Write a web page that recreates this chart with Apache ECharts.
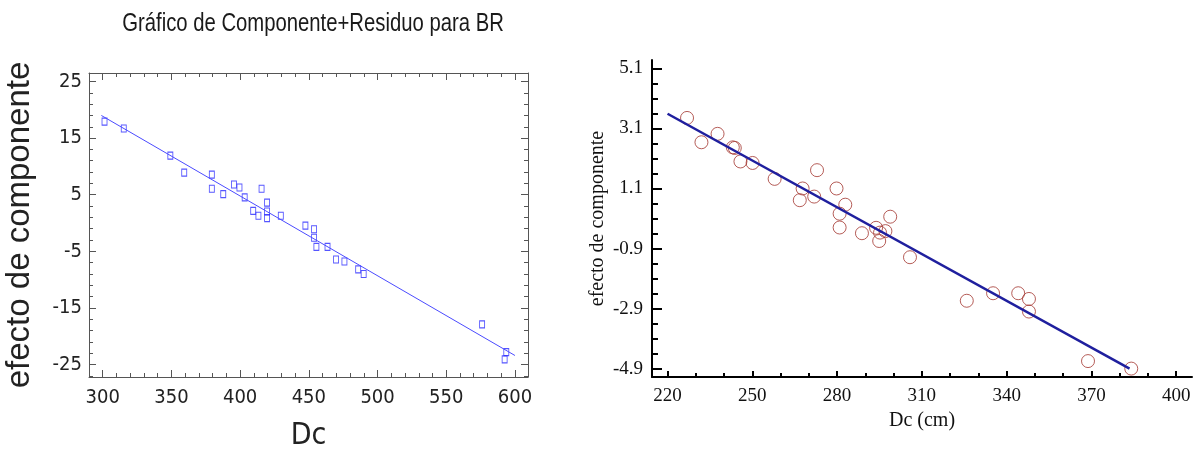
<!DOCTYPE html>
<html lang="es" style="height: 100%">
<head>
    <meta charset="utf-8">
</head>
<body style="height: 100%; margin: 0; overflow: hidden; background: #fff">
<div id="container" style="height: 455px; width: 1202px"></div>

<script type="text/javascript" src="https://cdn.jsdelivr.net/npm/echarts@6/dist/echarts.min.js"></script>

<script type="text/javascript">
    // ---- datos: gráfico izquierdo (Componente+Residuo para BR) ----
    var leftDc = [301.3, 315.3, 349.2, 359.3, 379.4, 379.4, 387.7, 395.5, 399.5, 403.3,
                  415.6, 409.5, 413.3, 419.6, 419.6, 419.6, 429.6, 447.5, 453.8, 453.8,
                  455.5, 463.6, 469.8, 475.9, 485.9, 489.9, 576.1, 593.7, 592.5];
    var leftEfecto = [17.9, 16.7, 11.9, 8.9, 8.55, 6.05, 5.1, 6.8, 6.28, 4.53,
                      6.05, 2.15, 1.28, 3.6, 2.03, 0.87, 1.28, -0.47, -1.1, -2.6,
                      -4.2, -4.2, -6.45, -6.8, -8.2, -9.0, -17.9, -22.8, -24.1];
    var leftFitDc = [299, 600];
    var leftFitEfecto = [19.0, -23.4];
    var leftXTicks = [300, 350, 400, 450, 500, 550, 600];
    var leftYTicks = [-25, -15, -5, 5, 15, 25];

    // ---- datos: gráfico derecho (Dc en cm) ----
    var rightDc = [226.9, 232.0, 237.7, 243.1, 243.8, 245.8, 250.1, 257.9, 272.9, 267.8,
                   266.8, 271.9, 279.8, 282.9, 280.9, 280.9, 298.8, 288.8, 293.8, 295.2,
                   297.1, 294.9, 305.8, 325.9, 335.2, 344.1, 347.9, 347.9, 368.8, 384.1];
    var rightEfecto = [3.45, 2.64, 2.92, 2.47, 2.45, 2.0, 1.95, 1.42, 1.71, 1.1,
                       0.71, 0.83, 1.1, 0.56, 0.26, -0.2, 0.16, -0.39, -0.21, -0.37,
                       -0.32, -0.65, -1.19, -2.64, -2.39, -2.39, -2.58, -3.0, -4.65, -4.9];
    var rightFitDc = [220, 383.5];
    var rightFitEfecto = [3.59, -4.9];
    var rightXTicks = [220, 250, 280, 310, 340, 370, 400];
    var rightYTicks = [-4.9, -2.9, -0.9, 1.1, 3.1, 5.1];

    function pairs(xs, ys) {
      return xs.map(function (x, i) { return [x, ys[i]]; });
    }
    // marcas menores entre las mayores
    function minorBetween(start, end, step, majors) {
      var out = [];
      for (var v = start; v <= end + 1e-9; v += step) {
        var r = Math.round(v * 100) / 100;
        if (majors.indexOf(r) < 0) out.push(r);
      }
      return out;
    }

    var narrow = "'Liberation Sans Narrow', 'DejaVu Sans Condensed', 'Liberation Sans', Arial, sans-serif";
    var serif = "'Liberation Serif', 'Times New Roman', serif";
    var boxColor = '#555';

    var leftXMinor = minorBetween(290, 600, 10, leftXTicks);
    var leftYMinor = minorBetween(-27, 25, 2, leftYTicks);
    var rightXMinor = minorBetween(220, 400, 10, rightXTicks);
    var rightYMinor = minorBetween(-4.9, 5.1, 0.5, rightYTicks);

    function ticks(values, len, color, width) {
      return { show: true, inside: true, length: len, customValues: values, lineStyle: { color: color, width: width || 1 } };
    }
    function boxAxis(opts) {
      // eje auxiliar sin etiquetas, solo marcas hacia dentro
      return Object.assign({
        type: 'value',
        axisLine: { show: false, onZero: false },
        axisLabel: { show: false },
        splitLine: { show: false }
      }, opts);
    }

    var dom = document.getElementById('container');
    var myChart = echarts.init(dom, null, { renderer: 'canvas' });

    var lx = { gridIndex: 0, min: 290, max: 609.5 };
    var ly = { gridIndex: 0, min: -27.2, max: 26.5 };
    var rx = { gridIndex: 1, min: 214.5, max: 405.6 };
    var ry = { gridIndex: 1, min: -5.18, max: 5.38 };

    var option = {
      animation: false,
      backgroundColor: '#fff',
      graphic: [{
        type: 'text',
        x: 313, y: 11,
        scaleX: 0.78,
        silent: true,
        style: {
          text: 'Gráfico de Componente+Residuo para BR',
          fontFamily: "'Liberation Sans', Arial, sans-serif",
          fontSize: 26,
          fill: '#1a1a1a',
          textAlign: 'center',
          textVerticalAlign: 'top'
        }
      }],
      grid: [
        { left: 89, top: 73, width: 439, height: 304, outerBoundsMode: 'none' },
        { left: 652, top: 60, width: 540, height: 317, outerBoundsMode: 'none' }
      ],
      xAxis: [
        // izquierdo: abajo, mayores + etiquetas
        Object.assign({}, lx, {
          type: 'value', position: 'bottom',
          name: 'Dc', nameLocation: 'middle', nameGap: 44,
          nameTextStyle: { fontFamily: narrow, fontSize: 30, color: '#222' },
          axisLine: { show: true, onZero: false, lineStyle: { color: boxColor, width: 1 } },
          axisTick: ticks(leftXTicks, 7, boxColor),
          axisLabel: { customValues: leftXTicks, margin: 11, fontFamily: narrow, fontSize: 20, color: '#222' },
          splitLine: { show: false }
        }),
        boxAxis(Object.assign({}, lx, { position: 'bottom', axisTick: ticks(leftXMinor, 4, boxColor) })),
        boxAxis(Object.assign({}, lx, { position: 'top', axisLine: { show: true, onZero: false, lineStyle: { color: boxColor } }, axisTick: ticks(leftXTicks, 7, boxColor) })),
        boxAxis(Object.assign({}, lx, { position: 'top', axisTick: ticks(leftXMinor, 4, boxColor) })),
        // derecho
        Object.assign({}, rx, {
          type: 'value', position: 'bottom',
          name: 'Dc (cm)', nameLocation: 'middle', nameGap: 31,
          nameTextStyle: { fontFamily: serif, fontSize: 20, color: '#111' },
          axisLine: { show: true, onZero: false, lineStyle: { color: '#000', width: 2 } },
          axisTick: ticks(rightXTicks, 6, '#000', 2),
          axisLabel: { customValues: rightXTicks, margin: 10, fontFamily: serif, fontSize: 19, color: '#111' },
          splitLine: { show: false }
        }),
        boxAxis(Object.assign({}, rx, { position: 'bottom', axisTick: ticks(rightXMinor, 4, '#000', 2) }))
      ],
      yAxis: [
        Object.assign({}, ly, {
          type: 'value', position: 'left',
          name: 'efecto de componente', nameLocation: 'middle', nameGap: 53, nameRotate: 90,
          nameTextStyle: { fontFamily: "'Liberation Sans', Arial, sans-serif", fontSize: 33, color: '#222' },
          axisLine: { show: true, onZero: false, lineStyle: { color: boxColor, width: 1 } },
          axisTick: ticks(leftYTicks, 7, boxColor),
          axisLabel: { customValues: leftYTicks, margin: 7, fontFamily: narrow, fontSize: 20, color: '#222' },
          splitLine: { show: false }
        }),
        boxAxis(Object.assign({}, ly, { position: 'left', axisTick: ticks(leftYMinor, 4, boxColor) })),
        boxAxis(Object.assign({}, ly, { position: 'right', axisLine: { show: true, onZero: false, lineStyle: { color: boxColor } }, axisTick: ticks(leftYTicks, 7, boxColor) })),
        boxAxis(Object.assign({}, ly, { position: 'right', axisTick: ticks(leftYMinor, 4, boxColor) })),
        Object.assign({}, ry, {
          type: 'value', position: 'left',
          name: 'efecto de componente', nameLocation: 'middle', nameGap: 44, nameRotate: 90,
          nameTextStyle: { fontFamily: serif, fontSize: 20, color: '#111' },
          axisLine: { show: true, onZero: false, lineStyle: { color: '#000', width: 2 } },
          axisTick: ticks(rightYTicks, 10, '#000', 2),
          axisLabel: { customValues: rightYTicks, margin: 9, fontFamily: serif, fontSize: 19, color: '#111' },
          splitLine: { show: false }
        }),
        boxAxis(Object.assign({}, ry, { position: 'left', axisTick: ticks(rightYMinor, 6, '#000', 2) }))
      ],
      series: [
        {
          type: 'scatter', xAxisIndex: 0, yAxisIndex: 0,
          symbol: 'rect', symbolSize: [5, 7],
          itemStyle: { color: 'rgba(0,0,0,0)', borderColor: '#2a2aff', borderWidth: 1 },
          data: pairs(leftDc, leftEfecto)
        },
        {
          type: 'line', xAxisIndex: 0, yAxisIndex: 0,
          showSymbol: false, silent: true,
          lineStyle: { color: '#4b4bff', width: 1 },
          data: pairs(leftFitDc, leftFitEfecto)
        },
        {
          type: 'scatter', xAxisIndex: 4, yAxisIndex: 4,
          symbol: 'circle', symbolSize: 13,
          itemStyle: { color: 'rgba(0,0,0,0)', borderColor: '#a3352e', borderWidth: 1 },
          data: pairs(rightDc, rightEfecto)
        },
        {
          type: 'line', xAxisIndex: 4, yAxisIndex: 4,
          showSymbol: false, silent: true,
          lineStyle: { color: '#1f1f9e', width: 2.5 },
          data: pairs(rightFitDc, rightFitEfecto)
        }
      ]
    };

    myChart.setOption(option);
    window.addEventListener('resize', myChart.resize);
</script>
</body>
</html>
